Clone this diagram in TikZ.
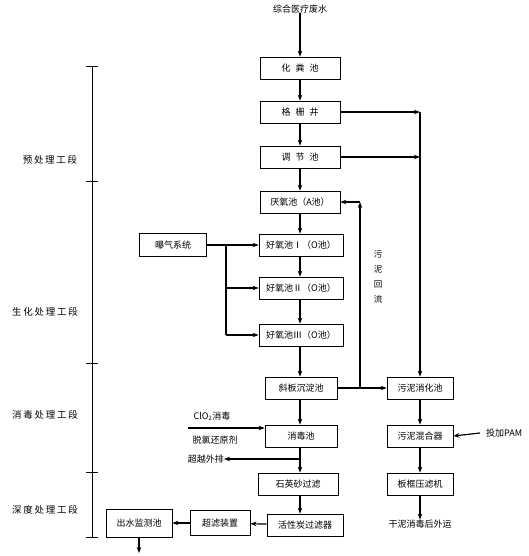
\documentclass[tikz,border=0pt]{standalone}
\usepackage{fontspec}
\newfontfamily\cjk{Noto Sans CJK SC}
\newfontfamily\cjksp{Noto Sans CJK SC}[LetterSpace=18]
\usetikzlibrary{arrows.meta}
\begin{document}
\begin{tikzpicture}[x=1pt,y=-1pt,
  box/.style={draw,line width=0.7pt,minimum width=80pt,minimum height=22pt,inner sep=1pt,font=\cjk\fontsize{9}{10}\selectfont},
  sbox/.style={box,minimum width=66pt},
  lbl/.style={inner sep=0pt,font=\cjk\fontsize{9}{10}\selectfont},
  stage/.style={inner sep=0pt,font=\cjksp\fontsize{9.5}{11}\selectfont},
  conn/.style={line width=1.2pt,-{Stealth[length=6pt,width=4.5pt]}},
  line/.style={line width=1.2pt},
  axis/.style={line width=0.8pt}]
\useasboundingbox (0,0) rectangle (529,556);

% top input
\node[lbl] (src) at (300,9) {综合医疗废水};

% main column
\node[box] (hfc) at (300,68) {化\hspace{5pt}粪\hspace{5pt}池};
\node[box] (gsj) at (300,112) {格\hspace{5pt}栅\hspace{5pt}井};
\node[box] (tjc) at (300,157) {调\hspace{5pt}节\hspace{5pt}池};
\node[box] (yy)  at (300,202) {厌氧池（A池）};
\node[box,minimum width=84pt] (h1) at (301,245) {好氧池Ⅰ（O池）};
\node[box,minimum width=84pt] (h2) at (301,288) {好氧池Ⅱ（O池）};
\node[box,minimum width=84pt] (h3) at (301,335) {好氧池Ⅲ（O池）};
\node[box,minimum width=72pt] (xb) at (301,388) {斜板沉淀池};
\node[box,minimum width=72pt] (xd) at (301,436) {消毒池};
\node[box] (sy) at (298,484) {石英砂过滤};
\node[box,minimum width=76pt] (hx) at (305,525) {活性炭过滤器};

% right column (sludge)
\node[sbox] (wx) at (420,388) {污泥消化池};
\node[sbox] (wh) at (420,436) {污泥混合器};
\node[sbox] (bk) at (420,484) {板框压滤机};
\node[lbl] (gn) at (420,524) {干泥消毒后外运};
\node[lbl,anchor=west] (pam) at (486,433) {投加PAM};

% left items
\node[box,minimum width=67pt,minimum height=23pt] (bq) at (173,245) {曝气系统};
\node[lbl] (clo) at (212,416) {ClO\textsubscript{2}消毒};
\node[lbl] (tl) at (215,440) {脱氯还原剂};
\node[lbl,anchor=east] (cy) at (224,459) {超越外排};
\node[box,minimum width=60pt,minimum height=25pt] (cl) at (220,523) {超滤装置};
\node[box,minimum width=66pt,minimum height=28pt] (cs) at (139,523) {出水监测池};
\coordinate (out) at (139,553);

% stage axis
\coordinate (a0) at (92,66);
\coordinate (a1) at (92,181);
\coordinate (a2) at (92,363);
\coordinate (a3) at (92,472);
\coordinate (a4) at (92,537);
\draw[axis] (a0) -- (a4);
\foreach \c in {a0,a1,a2,a3,a4} \draw[axis] ([xshift=-6pt]\c) -- ([xshift=6pt]\c);
\node[stage] (s1) at (50,160) {预处理工段};
\node[stage] (s2) at (45,312) {生化处理工段};
\node[stage] (s3) at (45,415) {消毒处理工段};
\node[stage] (s4) at (45,510) {深度处理工段};

% vertical label
\node[lbl,align=center,font=\cjk\fontsize{8.5}{15}\selectfont] (hl) at (378,277) {污\\泥\\回\\流};

% main flow
\draw[conn] (src) -- (hfc);
\draw[conn] (hfc) -- (gsj);
\draw[conn] (gsj) -- (tjc);
\draw[conn] (tjc) -- (yy);
\draw[conn] (yy) -- (yy |- h1.north);
\draw[conn] (yy |- h1.south) -- (yy |- h2.north);
\draw[conn] (yy |- h2.south) -- (yy |- h3.north);
\draw[conn] (yy |- h3.south) -- (yy |- xb.north);
\draw[conn] (yy |- xb.south) -- (yy |- xd.north);
\draw[conn] (yy |- xd.south) -- (yy |- sy.north);
\draw[conn] (yy |- sy.south) -- (yy |- hx.north);

% aeration
\coordinate (bj) at (226,245);
\draw[conn] (bq) -- (h1);
\draw[line] (bj) -- (226,335);
\draw[conn] (226,288) -- (h2);
\draw[conn] (226,335) -- (h3);

% sludge from pretreatment
\coordinate (r1) at (420,112);
\coordinate (r2) at (420,157);
\draw[conn] (gsj) -- (r1);
\draw[conn] (tjc) -- (r2);
\draw[conn] (r1) -- (wx);

% sludge from settling tank and return
\coordinate (rj) at (360,388);
\coordinate (rt) at (360,202);
\draw[conn] (xb) -- (wx);
\draw[conn] (rj) -- (rt);
\draw[conn] (rt) -- (yy);

% sludge treatment
\draw[conn] (wx) -- (wh);
\draw[conn] (wh) -- (bk);
\draw[conn] (bk) -- (gn);
\draw[conn] (pam.west) ++(-6pt,0) -- (wh.east);

% disinfection dosing
\draw[conn] (188,428) -- (xd.west |- 0,428);

% bypass
\coordinate (bp) at (301,459);
\draw[conn] (bp) -- (cy.east);

% deep treatment outlet
\draw[conn] (hx) -- (cl);
\draw[conn] (cl) -- (cs);
\draw[conn] (cs) -- (out);
\end{tikzpicture}
\end{document}
